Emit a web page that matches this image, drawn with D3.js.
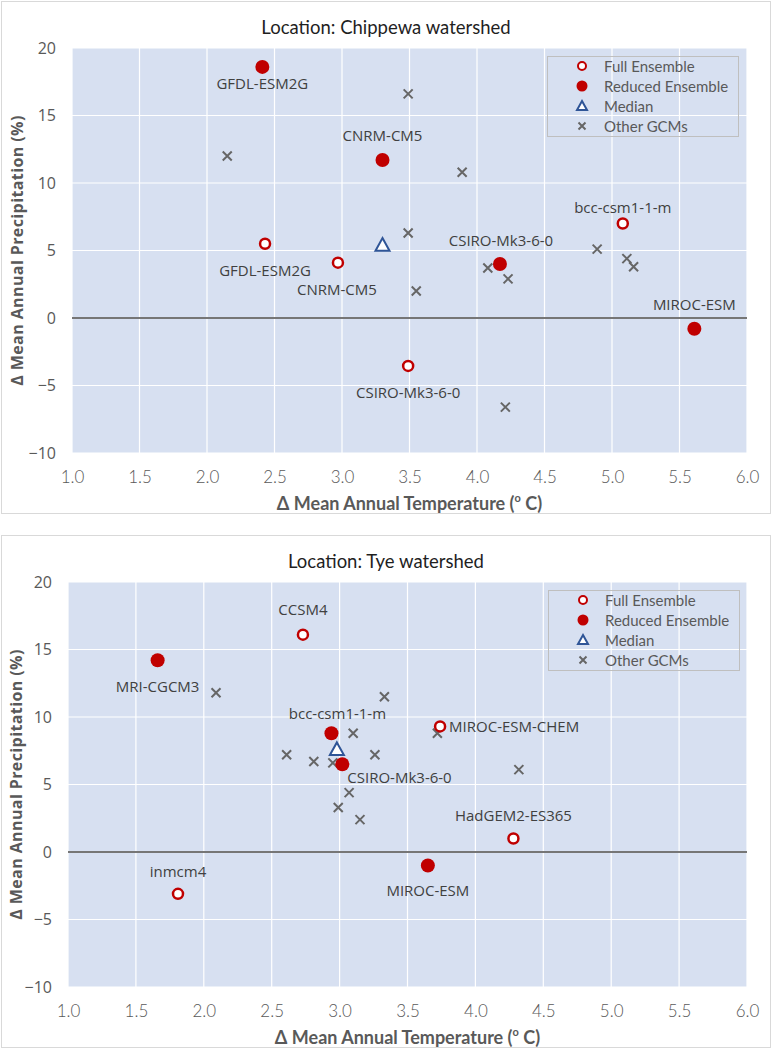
<!DOCTYPE html>
<html>
<head>
<meta charset="utf-8">
<script src="https://cdn.jsdelivr.net/npm/d3@7"></script>
<style>
  html, body { margin: 0; padding: 0; background: #ffffff; }
  svg { display: block; }
</style>
</head>
<body>
<svg id="chart" width="773" height="1050"></svg>
<script>
// ---------------- DATA ----------------
const xTicks = [1.0, 1.5, 2.0, 2.5, 3.0, 3.5, 4.0, 4.5, 5.0, 5.5, 6.0];
const yTicks = [-10, -5, 0, 5, 10, 15, 20];
const legendLabels = ["Full Ensemble", "Reduced Ensemble", "Median", "Other GCMs"];
const xAxisTitle = "Δ Mean Annual Temperature  (";
const yAxisTitle = "Δ Mean Annual Precipitation  (%)";

// Chippewa watershed: [temperature change (°C), precipitation change (%)]
const chippewaTitle = "Location: Chippewa watershed";
const chippewaFullNames = ["GFDL-ESM2G", "CNRM-CM5", "CSIRO-Mk3-6-0", "bcc-csm1-1-m"];
const chippewaFull = [[2.43, 5.5], [2.97, 4.1], [3.49, -3.55], [5.08, 7.0]];
const chippewaReducedNames = ["GFDL-ESM2G", "CNRM-CM5", "CSIRO-Mk3-6-0", "MIROC-ESM"];
const chippewaReduced = [[2.41, 18.6], [3.30, 11.7], [4.17, 4.0], [5.61, -0.8]];
const chippewaMedian = [[3.30, 5.4]];
const chippewaOther = [[2.15, 12.0], [3.49, 16.6], [3.89, 10.8], [3.49, 6.3], [3.55, 2.0],
  [4.08, 3.7], [4.23, 2.9], [4.89, 5.1], [5.11, 4.4], [5.16, 3.8], [4.21, -6.6]];

// Tye watershed
const tyeTitle = "Location: Tye watershed";
const tyeFullNames = ["CCSM4", "MIROC-ESM-CHEM", "HadGEM2-ES365", "inmcm4"];
const tyeFull = [[2.73, 16.1], [3.74, 9.3], [4.28, 1.0], [1.81, -3.1]];
const tyeReducedNames = ["MRI-CGCM3", "bcc-csm1-1-m", "CSIRO-Mk3-6-0", "MIROC-ESM"];
const tyeReduced = [[1.66, 14.2], [2.94, 8.8], [3.02, 6.5], [3.65, -1.0]];
const tyeMedian = [[2.98, 7.6]];
const tyeOther = [[2.09, 11.8], [3.33, 11.5], [3.10, 8.8], [3.72, 8.8], [2.61, 7.2], [2.81, 6.7],
  [2.95, 6.6], [3.26, 7.2], [3.07, 4.4], [2.99, 3.3], [3.15, 2.4], [4.32, 6.1]];

// ---------------- LAYOUT (label placement, px offsets; anchor) ----------------
const chippewaFullLabelPos = [[0, 26, "middle"], [-1, 26, "middle"], [0, 26, "middle"], [0, -17, "middle"]];
const chippewaReducedLabelPos = [[0, 16, "middle"], [0, -25, "middle"], [1, -24, "middle"], [0, -25, "middle"]];
const tyeFullLabelPos = [[0, -26, "middle"], [9, 0, "start"], [0, -24, "middle"], [0, -23, "middle"]];
const tyeReducedLabelPos = [[0, 26, "middle"], [6, -20, "middle"], [5, 13, "start"], [0, 24, "middle"]];

const RED = "#C00000";
const BLUE = "#2F5597";
const GREY = "#666666";
const TXT = "#595959";

const svg = d3.select("#chart");

function drawChart(cfg) {
  const g = svg.append("g");
  // outer frame
  g.append("rect")
    .attr("x", 1.5).attr("y", cfg.frameTop + 0.5)
    .attr("width", 769).attr("height", cfg.frameBottom - cfg.frameTop)
    .attr("fill", "#fff").attr("stroke", "#d9d9d9").attr("stroke-width", 1);

  const x = d3.scaleLinear().domain([1, 6]).range([cfg.left, cfg.right]);
  const y = d3.scaleLinear().domain([-10, 20]).range([cfg.bottom, cfg.top]);

  // plot background
  g.append("rect")
    .attr("x", x(1)).attr("y", y(20))
    .attr("width", x(6) - x(1)).attr("height", y(-10) - y(20))
    .attr("fill", "#D7E0F1");

  // grid
  const grid = g.append("g");
  grid.selectAll("line.v").data(xTicks).join("line")
    .attr("x1", d => x(d)).attr("x2", d => x(d))
    .attr("y1", y(20)).attr("y2", y(-10))
    .attr("stroke", "#ffffff").attr("stroke-width", 1.2);
  grid.selectAll("line.h").data(yTicks.filter(v => v !== 0)).join("line")
    .attr("x1", x(1)).attr("x2", x(6))
    .attr("y1", d => y(d)).attr("y2", d => y(d))
    .attr("stroke", "#ffffff").attr("stroke-width", 1.2);
  // zero line
  g.append("line")
    .attr("x1", x(1)).attr("x2", x(6))
    .attr("y1", y(0)).attr("y2", y(0))
    .attr("stroke", "#767676").attr("stroke-width", 2);

  // axes via d3 axis generators (no domain/ticks lines)
  const xAxis = g.append("g")
    .attr("transform", `translate(0,${cfg.bottom + 15})`)
    .call(d3.axisBottom(x).tickValues(xTicks).tickFormat(d3.format(".1f")).tickSize(0));
  xAxis.select(".domain").remove();
  xAxis.selectAll("text")
    .attr("fill", TXT).attr("font-family", "Lato, 'Liberation Sans Narrow', sans-serif")
    .attr("font-weight", 300)
    .attr("font-size", 17).attr("dy", "0.71em");

  const yAxis = g.append("g")
    .attr("transform", `translate(${cfg.yLabelX},0)`)
    .call(d3.axisLeft(y).tickValues(yTicks).tickSize(0));
  yAxis.select(".domain").remove();
  yAxis.selectAll("text")
    .attr("fill", TXT).attr("font-family", "'Open Sans', sans-serif")
    .attr("font-size", 16).attr("x", 0);

  // title
  g.append("text")
    .attr("x", 386).attr("y", cfg.frameTop + 26)
    .attr("text-anchor", "middle").attr("dominant-baseline", "central")
    .attr("font-family", "Lato, sans-serif").attr("font-size", 18.5)
    .attr("fill", "#1f1f1f")
    .text(cfg.title);

  // x-axis title with superscript
  const xt = g.append("text")
    .attr("x", (cfg.left + cfg.right) / 2).attr("y", cfg.bottom + 50)
    .attr("text-anchor", "middle").attr("dominant-baseline", "central")
    .attr("font-family", "Lato, sans-serif").attr("font-size", 18)
    .attr("font-weight", "bold").attr("fill", TXT);
  xt.append("tspan").text(xAxisTitle);
  xt.append("tspan").attr("dy", -6).attr("font-size", 11).text("o");
  xt.append("tspan").attr("dy", 6).text(" C)");

  // y-axis title
  g.append("text")
    .attr("transform", `translate(${cfg.yTitleX},${(cfg.top + cfg.bottom) / 2}) rotate(-90)`)
    .attr("text-anchor", "middle").attr("dominant-baseline", "central")
    .attr("font-family", "'Open Sans', sans-serif").attr("font-size", 16)
    .attr("font-weight", "bold").attr("fill", TXT)
    .attr("letter-spacing", 0.4)
    .text(yAxisTitle);

  // legend
  const lg = g.append("g");
  lg.append("rect")
    .attr("x", cfg.legendX + 0.5).attr("y", cfg.legendY + 0.5)
    .attr("width", 191).attr("height", 80)
    .attr("fill", "none").attr("stroke", "#bfbfbf").attr("stroke-width", 1);
  legendLabels.forEach((lab, i) => {
    const cy = cfg.legendY + 10 + i * 20;
    const mx = cfg.legendX + 35;
    drawMarker(lg, i, mx, cy, true);
    lg.append("text")
      .attr("x", cfg.legendX + 57).attr("y", cy)
      .attr("dominant-baseline", "central")
      .attr("font-family", "Lato, sans-serif").attr("font-size", 15)
      .attr("fill", TXT).text(lab);
  });

  const pts = g.append("g");
  cfg.other.forEach(d => drawMarker(pts, 3, x(d[0]), y(d[1]), false));
  cfg.median.forEach(d => drawMarker(pts, 2, x(d[0]), y(d[1]), false));
  cfg.full.forEach(d => drawMarker(pts, 0, x(d[0]), y(d[1]), false));
  cfg.reduced.forEach(d => drawMarker(pts, 1, x(d[0]), y(d[1]), false));

  // labels
  const labs = g.append("g")
    .attr("font-family", "'Open Sans', sans-serif").attr("font-size", 15)
    .attr("fill", "#404040");
  function addLabels(data, names, pos) {
    data.forEach((d, i) => {
      labs.append("text")
        .attr("x", x(d[0]) + pos[i][0]).attr("y", y(d[1]) + pos[i][1])
        .attr("text-anchor", pos[i][2]).attr("dominant-baseline", "central")
        .text(names[i]);
    });
  }
  addLabels(cfg.full, cfg.fullNames, cfg.fullPos);
  addLabels(cfg.reduced, cfg.reducedNames, cfg.reducedPos);
}

function drawMarker(sel, type, cx, cy, small) {
  if (type === 0) {
    sel.append("circle").attr("cx", cx).attr("cy", cy).attr("r", small ? 4 : 5)
      .attr("fill", "#ffffff").attr("stroke", RED).attr("stroke-width", small ? 2 : 2.5);
  } else if (type === 1) {
    sel.append("circle").attr("cx", cx).attr("cy", cy).attr("r", small ? 5.5 : 7)
      .attr("fill", RED);
  } else if (type === 2) {
    const s = small ? 5 : 7;
    sel.append("path")
      .attr("d", `M${cx},${cy - s}L${cx + s},${cy + s * 0.8}L${cx - s},${cy + s * 0.8}Z`)
      .attr("fill", "#ffffff").attr("stroke", BLUE).attr("stroke-width", 2);
  } else {
    const s = small ? 3.5 : 4.5;
    sel.append("path")
      .attr("d", `M${cx - s},${cy - s}L${cx + s},${cy + s}M${cx - s},${cy + s}L${cx + s},${cy - s}`)
      .attr("stroke", GREY).attr("stroke-width", 2).attr("fill", "none");
  }
}

drawChart({
  title: chippewaTitle, frameTop: 1, frameBottom: 513,
  left: 72, right: 747, top: 48, bottom: 453,
  yLabelX: 56, yTitleX: 17, legendX: 547, legendY: 56,
  full: chippewaFull, fullNames: chippewaFullNames, fullPos: chippewaFullLabelPos,
  reduced: chippewaReduced, reducedNames: chippewaReducedNames, reducedPos: chippewaReducedLabelPos,
  median: chippewaMedian, other: chippewaOther
});

drawChart({
  title: tyeTitle, frameTop: 535, frameBottom: 1047,
  left: 68, right: 747, top: 582, bottom: 987,
  yLabelX: 52, yTitleX: 16, legendX: 548, legendY: 590,
  full: tyeFull, fullNames: tyeFullNames, fullPos: tyeFullLabelPos,
  reduced: tyeReduced, reducedNames: tyeReducedNames, reducedPos: tyeReducedLabelPos,
  median: tyeMedian, other: tyeOther
});
</script>
</body>
</html>
